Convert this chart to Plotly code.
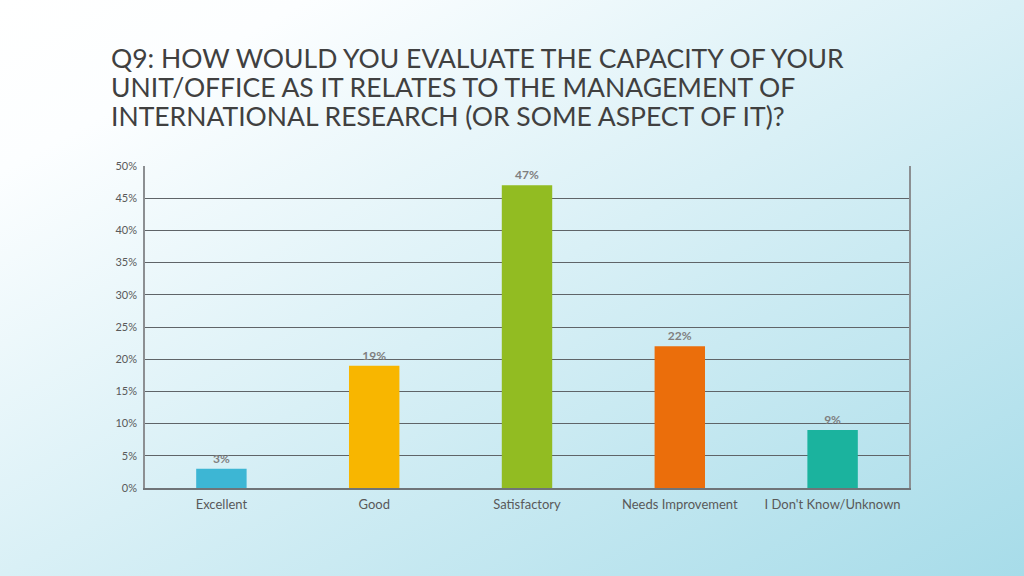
import base64
import plotly.graph_objects as go

categories = ["Excellent", "Good", "Satisfactory", "Needs Improvement", "I Don't Know/Unknown"]
values = [3, 19, 47, 22, 9]
labels = ["3%", "19%", "47%", "22%", "9%"]
colors = ["#3DB6D4", "#F8B600", "#92BC22", "#EB6E0B", "#1BB39E"]
tick_vals = [0, 5, 10, 15, 20, 25, 30, 35, 40, 45, 50]
tick_text = [f"{v}%" for v in tick_vals]
title_lines = [
    "Q9: HOW WOULD YOU EVALUATE THE CAPACITY OF YOUR",
    "UNIT/OFFICE AS IT RELATES TO THE MANAGEMENT OF",
    "INTERNATIONAL RESEARCH (OR SOME ASPECT OF IT)?",
]

W, H = 1024, 576
L, R, T, B = 145, 115, 166, 88
PW, PH = W - L - R, H - T - B

svg = (
    '<svg xmlns="http://www.w3.org/2000/svg" width="1024" height="576" preserveAspectRatio="none">'
    '<defs><linearGradient id="g" x1="0" y1="0" x2="1" y2="1">'
    '<stop offset="0" stop-color="#FFFFFF"/>'
    '<stop offset="0.15" stop-color="#FCFEFF"/>'
    '<stop offset="0.5" stop-color="#D9F0F6"/>'
    '<stop offset="1" stop-color="#A7DCE9"/>'
    '</linearGradient></defs>'
    '<rect width="1024" height="576" fill="url(#g)"/></svg>'
)
bg_src = "data:image/svg+xml;base64," + base64.b64encode(svg.encode()).decode()

fig = go.Figure()
fig.add_trace(go.Bar(
    x=categories, y=values,
    marker=dict(color=colors, line=dict(width=0)),
    width=0.33,
    text=labels, textposition="outside",
    textfont=dict(family="Lato", size=12, color="#7F7F7F", weight="bold"),
    cliponaxis=False,
    hoverinfo="skip",
))

annotations = []
centers = [58, 87, 116]
for line, cy in zip(title_lines, centers):
    annotations.append(dict(
        text=line, xref="paper", yref="paper",
        x=(109 - L) / PW, y=1 + (T - cy) / PH,
        xanchor="left", yanchor="middle", align="left", showarrow=False,
        font=dict(family="Lato", size=26.5, color="#404040"),
    ))

fig.update_layout(
    width=W, height=H,
    margin=dict(l=L, r=R, t=T, b=B),
    paper_bgcolor="rgba(0,0,0,0)",
    plot_bgcolor="rgba(0,0,0,0)",
    showlegend=False,
    images=[dict(source=bg_src, xref="paper", yref="paper", x=-L / PW, y=1 + T / PH,
                 sizex=W / PW, sizey=H / PH, xanchor="left", yanchor="top",
                 sizing="stretch", layer="below")],
    annotations=annotations,
)
fig.update_xaxes(
    showgrid=False, showline=True, linecolor="#6F7478", linewidth=1.5,
    ticks="", ticklabelstandoff=4,
    tickfont=dict(family="Lato", size=13, color="#595959"),
)
fig.update_yaxes(
    range=[0, 50], tickvals=tick_vals, ticktext=tick_text,
    showgrid=True, gridcolor="#5F6468", gridwidth=1,
    showline=True, linecolor="#8C8F92", linewidth=1.5, mirror=True,
    ticks="", ticklabelstandoff=4,
    tickfont=dict(family="Lato", size=11, color="#595959"),
    zeroline=False,
)
fig.write_html("out.html", config={"displayModeBar": False},
               post_script="document.body.style.margin='0';")
